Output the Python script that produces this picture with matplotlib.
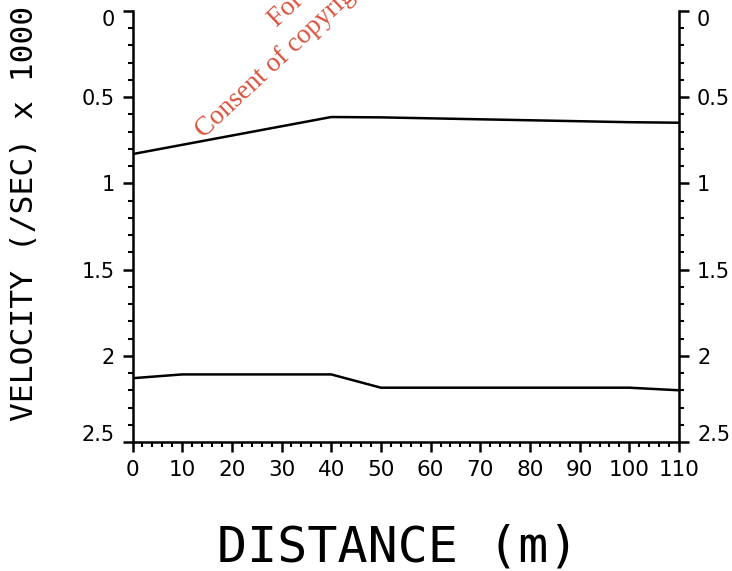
import matplotlib
matplotlib.use("Agg")
import matplotlib.pyplot as plt
from matplotlib.ticker import MultipleLocator, FixedLocator
from matplotlib.transforms import ScaledTranslation

# Data
upper_x = [0, 40, 50, 100, 110]
upper_v = [0.83, 0.615, 0.617, 0.645, 0.648]
lower_x = [0, 10, 40, 50, 100, 110]
lower_v = [2.13, 2.108, 2.108, 2.185, 2.185, 2.20]
x_ticks = [0, 10, 20, 30, 40, 50, 60, 70, 80, 90, 100, 110]
y_ticks = [0, 0.5, 1, 1.5, 2, 2.5]
y_ticklabels = ["0", "0.5", "1", "1.5", "2", "2.5"]
xlabel = "DISTANCE (m)"
ylabel = "VELOCITY (/SEC) x 1000"
wm_line1 = "For inspection purposes only."
wm_line2 = "Consent of copyright owner required for any other use."

W, H = 732, 571
fig = plt.figure(figsize=(W / 100, H / 100), dpi=100)
ax = fig.add_axes([132.5 / W, 1 - 442 / H, (679 - 132.5) / W, (442 - 11) / H])

mono = "DejaVu Sans Mono"
tickfont = "DejaVu Sans"
for xs, vs in [(upper_x, upper_v), (lower_x, lower_v)]:
    ax.plot(xs, vs, color="black", lw=1.8, solid_joinstyle="miter")

ax.set_xlim(0, 110)
ax.set_ylim(2.5, 0)

ax.spines["top"].set_visible(False)
for s in ["left", "right", "bottom"]:
    ax.spines[s].set_linewidth(1.8)

ax.xaxis.set_major_locator(FixedLocator(x_ticks))
ax.xaxis.set_minor_locator(MultipleLocator(2))
ax.set_xticklabels([str(v) for v in x_ticks], family=tickfont, fontsize=15.5)
ax.yaxis.set_major_locator(FixedLocator(y_ticks))
ax.yaxis.set_minor_locator(MultipleLocator(0.1))
ax.set_yticklabels(y_ticklabels, family=tickfont, fontsize=15)

ax.tick_params(axis="both", which="major", direction="out", length=7, width=1.8, pad=6)
ax.tick_params(axis="both", which="minor", direction="out", length=3.8, width=1.5)
ax.tick_params(axis="y", which="both", left=True, right=True, labelleft=True, labelright=True)
ax.tick_params(axis="y", which="major", pad=6)

# nudge the end labels inward like the reference
shifts = {0: -7, 5: 9}
for i, tick in enumerate(ax.yaxis.get_major_ticks()):
    if i in shifts:
        off = ScaledTranslation(0, shifts[i] / 100, fig.dpi_scale_trans)
        for lab in (tick.label1, tick.label2):
            lab.set_transform(lab.get_transform() + off)

fig.text(398 / W, 1 - 561 / H, xlabel, family=mono, fontsize=36,
         ha="center", va="baseline")
fig.text(25 / W, 1 - 213 / H, ylabel, family=mono, fontsize=22.5,
         rotation=90, ha="center", va="center")

wm_color = "#d8523c"
fig.text(277 / W, 1 - 28 / H, wm_line1, family="Liberation Serif", fontsize=19.5,
         color=wm_color, rotation=43, rotation_mode="anchor", ha="left", va="baseline")
fig.text(204 / W, 1 - 139 / H, wm_line2, family="Liberation Serif", fontsize=19.5,
         color=wm_color, rotation=43, rotation_mode="anchor", ha="left", va="baseline")

fig.savefig("out.png", dpi=100)
